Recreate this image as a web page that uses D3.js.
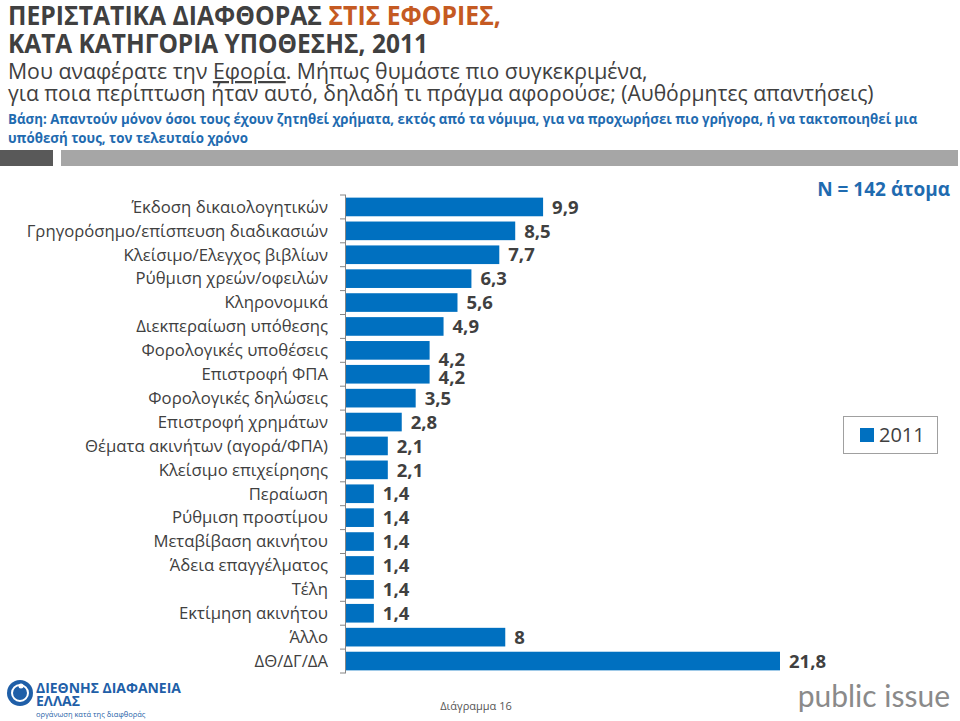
<!DOCTYPE html>
<html><head><meta charset="utf-8">
<script src="https://cdn.jsdelivr.net/npm/d3@7"></script>
<style>
body{margin:0;background:#fff;}
svg{display:block;font-family:"Open Sans","Noto Sans",sans-serif;}
</style></head>
<body>
<script>
const categories = [
  "Έκδοση δικαιολογητικών",
  "Γρηγορόσημο/επίσπευση διαδικασιών",
  "Κλείσιμο/Ελεγχος βιβλίων",
  "Ρύθμιση χρεών/οφειλών",
  "Κληρονομικά",
  "Διεκπεραίωση υπόθεσης",
  "Φορολογικές υποθέσεις",
  "Επιστροφή ΦΠΑ",
  "Φορολογικές δηλώσεις",
  "Επιστροφή χρημάτων",
  "Θέματα ακινήτων (αγορά/ΦΠΑ)",
  "Κλείσιμο επιχείρησης",
  "Περαίωση",
  "Ρύθμιση προστίμου",
  "Μεταβίβαση ακινήτου",
  "Άδεια επαγγέλματος",
  "Τέλη",
  "Εκτίμηση ακινήτου",
  "Άλλο",
  "ΔΘ/ΔΓ/ΔΑ"
];
const values2011 = [9.9, 8.5, 7.7, 6.3, 5.6, 4.9, 4.2, 4.2, 3.5, 2.8, 2.1, 2.1, 1.4, 1.4, 1.4, 1.4, 1.4, 1.4, 8, 21.8];
const seriesName = "2011";
const titleLine1a = "ΠΕΡΙΣΤΑΤΙΚΑ ΔΙΑΦΘΟΡΑΣ ";
const titleLine1b = "ΣΤΙΣ ΕΦΟΡΙΕΣ,";
const titleLine2 = "ΚΑΤΑ ΚΑΤΗΓΟΡΙΑ ΥΠΟΘΕΣΗΣ, 2011";
const sampleNote = "N = 142 άτομα";

const W = 960, H = 721;
const svg = d3.select("body").append("svg").attr("width", W).attr("height", H);

const grey = "#404040", blue = "#0070C0", orange = "#C55A22", baseBlue = "#1F6BB0";

function fit(sel, x, y, target) {
  const len = sel.node().getComputedTextLength();
  const k = target / len;
  sel.attr("x", 0).attr("y", 0).attr("transform", `translate(${x},${y}) scale(${k},1)`);
}

// Title
const t1 = svg.append("text").attr("font-weight", 700).attr("font-size", 26).attr("fill", grey);
t1.append("tspan").text(titleLine1a);
t1.append("tspan").attr("fill", orange).text(titleLine1b);
fit(t1, 8, 25, 493);
const t2 = svg.append("text").attr("font-weight", 700).attr("font-size", 26).attr("fill", grey).text(titleLine2);
fit(t2, 8, 53, 420);

// Question
const q1 = svg.append("text").attr("font-size", 22).attr("fill", grey);
q1.append("tspan").text("Μου αναφέρατε την ");
q1.append("tspan").attr("text-decoration", "underline").text("Εφορία");
q1.append("tspan").text(". Μήπως θυμάστε πιο συγκεκριμένα,");
fit(q1, 8, 79, 640);
const q2 = svg.append("text").attr("font-size", 22).attr("fill", grey)
  .text("για ποια περίπτωση ήταν αυτό, δηλαδή τι πράγμα αφορούσε; (Αυθόρμητες απαντήσεις)");
fit(q2, 8, 101, 866);

// Base
const b1 = svg.append("text").attr("font-size", 14).attr("font-weight", 700).attr("fill", baseBlue)
  .text("Βάση: Απαντούν μόνον όσοι τους έχουν ζητηθεί χρήματα, εκτός από τα νόμιμα, για να προχωρήσει πιο γρήγορα, ή να τακτοποιηθεί μια");
fit(b1, 8, 124, 910);
const b2 = svg.append("text").attr("font-size", 14).attr("font-weight", 700).attr("fill", baseBlue)
  .text("υπόθεσή τους, τον τελευταίο χρόνο");
fit(b2, 8, 143, 240);

// Separator bars
svg.append("rect").attr("x", 0).attr("y", 150).attr("width", 53).attr("height", 16).attr("fill", "#595959");
svg.append("rect").attr("x", 61).attr("y", 150).attr("width", 897).attr("height", 16).attr("fill", "#a6a6a6");

// Scales
const x0 = 346;
const x = d3.scaleLinear().domain([0, 21.8]).range([x0, 780]);
const y = d3.scaleBand().domain(categories).range([195, 673]).paddingInner(0.22).paddingOuter(0.11);
const step = y.step();

// Bars
svg.append("g").selectAll("rect").data(values2011).join("rect")
  .attr("x", x(0)).attr("y", (d, i) => y(categories[i]))
  .attr("width", d => x(d) - x(0)).attr("height", y.bandwidth())
  .attr("fill", blue);

// Axis line and ticks (between categories)
const axisG = svg.append("g");
axisG.append("line").attr("x1", x0 - 0.5).attr("x2", x0 - 0.5).attr("y1", 195).attr("y2", 673)
  .attr("stroke", "#868686").attr("stroke-width", 1);
const tickYs = d3.range(categories.length + 1).map(i => 195 + i * step);
axisG.selectAll("line.t").data(tickYs).join("line").attr("class", "t")
  .attr("x1", x0 - 6).attr("x2", x0).attr("y1", d => d).attr("y2", d => d)
  .attr("stroke", "#868686").attr("stroke-width", 1);

// Category labels
svg.append("g").selectAll("text").data(categories).join("text")
  .attr("x", 328).attr("y", d => y(d) + y.bandwidth() / 2)
  .attr("dy", "0.35em").attr("text-anchor", "end")
  .attr("font-size", 16.7).attr("fill", grey)
  .text(d => d);

// Value labels (Excel-style nudges where labels collide)
const nudge = i => (i === 6 ? 9 : i === 7 ? 3 : 0);
svg.append("g").selectAll("text").data(values2011).join("text")
  .attr("x", d => x(d) + 9).attr("y", (d, i) => y(categories[i]) + y.bandwidth() / 2 + nudge(i))
  .attr("dy", "0.36em").attr("font-size", 18.5).attr("font-weight", 700).attr("fill", grey)
  .text(d => d3.format("")(d).replace(".", ","));

// N note
svg.append("text").attr("x", 950).attr("y", 196).attr("text-anchor", "end")
  .attr("font-size", 19).attr("font-weight", 700).attr("fill", baseBlue).text(sampleNote);

// Legend
const lg = svg.append("g");
lg.append("rect").attr("x", 843.5).attr("y", 416.5).attr("width", 94).attr("height", 37)
  .attr("fill", "#fff").attr("stroke", "#a0a0a0");
lg.append("rect").attr("x", 860).attr("y", 428).attr("width", 14).attr("height", 14).attr("fill", blue);
lg.append("text").attr("x", 879).attr("y", 442).attr("font-size", 20).attr("fill", grey).text(seriesName);

// Footer
svg.append("text").attr("x", 476).attr("y", 710).attr("text-anchor", "middle")
  .attr("font-size", 11).attr("fill", "#555").text("Διάγραμμα 16");
svg.append("text").attr("x", 950).attr("y", 707).attr("text-anchor", "end")
  .attr("font-size", 30).attr("fill", "#8a8a8a").attr("font-family", "Lato, 'Open Sans', sans-serif").text("public issue");

// Transparency International logo (approximation)
const logo = svg.append("g");
logo.append("circle").attr("cx", 20).attr("cy", 693).attr("r", 13).attr("fill", "#1F5FA8");
logo.append("circle").attr("cx", 20).attr("cy", 693).attr("r", 8).attr("fill", "none").attr("stroke", "#fff").attr("stroke-width", 2);
logo.append("circle").attr("cx", 21).attr("cy", 686).attr("r", 2.5).attr("fill", "#fff");
const l1 = logo.append("text").attr("font-size", 15).attr("font-weight", 700).attr("fill", "#1F5FA8").text("ΔΙΕΘΝΗΣ ΔΙΑΦΑΝΕΙΑ");
fit(l1, 36, 693, 145);
logo.append("text").attr("x", 36).attr("y", 706).attr("font-size", 14).attr("font-weight", 700).attr("fill", "#1F5FA8").text("ΕΛΛΑΣ");
logo.append("text").attr("x", 36).attr("y", 717).attr("font-size", 7.5).attr("fill", "#1F5FA8").text("οργάνωση κατά της διαφθοράς");
</script>
</body></html>
